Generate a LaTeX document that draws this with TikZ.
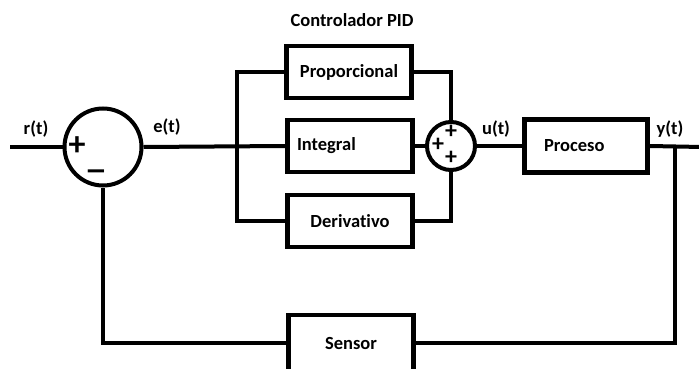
\documentclass[tikz,border=0pt]{standalone}
\usepackage{fontspec}
\setmainfont{Carlito}[Ligatures=NoCommon]
\newfontfamily\signfont{DejaVu Sans}
\usetikzlibrary{positioning}

\begin{document}
\begin{tikzpicture}[x=1pt, y=-1pt,
    block/.style={draw, line width=4.5pt, minimum width=125pt, minimum height=52pt, font=\bfseries\fontsize{18.5}{20}\selectfont},
    sum/.style={draw, circle, line width=4pt, inner sep=0pt},
    sig/.style={font=\bfseries\fontsize{18.5}{20}\selectfont},
    sign/.style={inner sep=0pt, font=\bfseries\fontsize{#1}{#1}\selectfont},
    wire/.style={line width=4pt}]
      \useasboundingbox (0,0) rectangle (699,369);
      \clip (0,0) rectangle (699,369);

      % Summing junctions
      \node[sum, minimum size=77pt] (sumA) at (103,147) {};
      \node[sum, minimum size=48pt] (sumB) at (451,146) {};

      % PID branches
      \node[block] (prop) at (349,72) {Proporcional};
      \node[block, text width=106pt, align=left] (integ) at (350,146) {Integral};
      \node[block] (deriv) at (350,221) {Derivativo};

      % Plant and sensor
      \node[block, minimum width=123pt, minimum height=53pt, text width=84pt, align=left] (proc) at (586,146) {Proceso};
      \node[block, minimum height=56pt] (sens) at (351,343) {Sensor};

      % Free ends
      \coordinate (in) at (10,147);
      \coordinate (out) at (702,147);
      \coordinate (busL) at (237,147);
      \coordinate (fb) at (675,147);

      % Wires
      \draw[wire] (in) -- (sumA.west);
      \draw[wire] (sumA.east) -- (integ.west);
      \draw[wire] (prop.west) -| (busL) |- (deriv.west);
      \draw[wire] (prop.east) -| (sumB.north);
      \draw[wire] (deriv.east) -| (sumB.south);
      \draw[wire] (integ.east) -- (sumB.west);
      \draw[wire] (sumB.east) -- (proc.west);
      \draw[wire] (proc.east) -- (out);
      \draw[wire] (fb) |- (sens.east);
      \draw[wire] (sens.west) -| (sumA.south);

      % Signs
      \node[sign=34] (pA) at (77,146) {+};
      \node[sign=26, font=\signfont\bfseries\fontsize{26}{26}\selectfont] (mA) at (96,175) {−};
      \node[sign=24] (pB1) at (451,132) {+};
      \node[sign=24] (pB2) at (438,145) {+};
      \node[sign=24] (pB3) at (451,158) {+};

      % Labels
      \node[sig] (rlab) at (36,129) {r(t)};
      \node[sig] (elab) at (167,127) {e(t)};
      \node[sig] (ulab) at (496,129) {u(t)};
      \node[sig] (ylab) at (670,129) {y(t)};
      \node[sig] (title) at (352,20) {Controlador PID};
    \end{tikzpicture}
\end{document}
